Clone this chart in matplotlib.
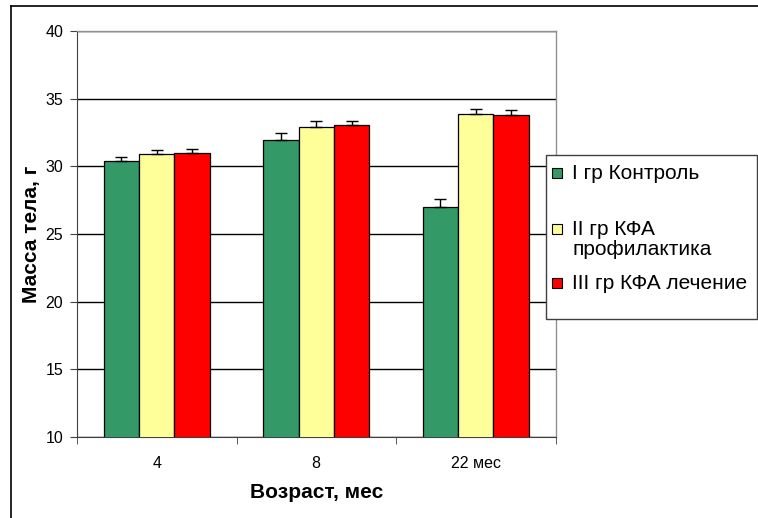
import matplotlib
matplotlib.use('Agg')
import matplotlib.pyplot as plt
import numpy as np
from matplotlib.patches import Rectangle
from matplotlib.lines import Line2D

plt.rcParams['font.family'] = ['Liberation Sans', 'DejaVu Sans']

categories = ['4', '8', '22 мес']
series_names = ['I гр Контроль', 'II гр КФА\nпрофилактика', 'III гр КФА лечение']
colors = ['#339966', '#FFFF99', '#FF0000']

control = [30.4, 31.95, 27.0]
prophylaxis = [30.9, 32.9, 33.85]
treatment = [31.0, 33.05, 33.8]
control_err = [0.3, 0.5, 0.6]
prophylaxis_err = [0.27, 0.42, 0.35]
treatment_err = [0.26, 0.33, 0.33]

values = [control, prophylaxis, treatment]
errors = [control_err, prophylaxis_err, treatment_err]

W, H = 758, 518
fig = plt.figure(figsize=(W / 100, H / 100), dpi=100)
ax = fig.add_axes([77 / W, 1 - 437 / H, (555.5 - 77) / W, (437 - 31) / H])

x = np.arange(len(categories))
bw = 0.222
for i in range(3):
    ax.bar(x + (i - 1) * bw, values[i], bw, bottom=0, color=colors[i],
           edgecolor='black', linewidth=0.9, zorder=3,
           yerr=[np.zeros(3), errors[i]], capsize=4,
           error_kw=dict(ecolor='black', elinewidth=1, capthick=1, zorder=4))

ax.set_ylim(10, 40)
ax.set_xlim(-0.5, 2.5)
ax.set_yticks(np.arange(10, 41, 5))
ax.yaxis.grid(True, color='black', linewidth=1, zorder=0)
ax.set_axisbelow(True)

ax.set_xticks(x)
ax.set_xticklabels(categories)
ax.set_xticks([-0.5, 0.5, 1.5, 2.5], minor=True)
ax.tick_params(axis='x', which='major', length=0, pad=14, labelsize=11.5)
ax.tick_params(axis='x', which='minor', length=5, color='#404040')
ax.tick_params(axis='y', length=5, pad=5, labelsize=11.5, color='#404040')

for s in ['top', 'right']:
    ax.spines[s].set_color('#909090')
    ax.spines[s].set_linewidth(1)
ax.spines['left'].set_color('#404040')
ax.spines['bottom'].set_color('#404040')

ax.set_xlabel('Возраст, мес', fontsize=15, fontweight='bold', labelpad=8)
ax.set_ylabel('Масса тела, г', fontsize=15, fontweight='bold', labelpad=3)

# outer chart frame (cut off at right and bottom)
fig.add_artist(Line2D([11 / W, 1], [1 - 5.5 / H, 1 - 5.5 / H], color='black', lw=1.2))
fig.add_artist(Line2D([11 / W, 11 / W], [0, 1 - 5.5 / H], color='black', lw=1.2))

# legend box
fig.add_artist(Rectangle((546 / W, 1 - 319 / H), (757 - 546) / W, (319 - 155) / H,
                         transform=fig.transFigure, facecolor='white',
                         edgecolor='#404040', lw=1, zorder=5))
legend_y = [173, 229, 283]
for i in range(3):
    yc = legend_y[i]
    fig.add_artist(Rectangle((552 / W, 1 - (yc + 5) / H), 10 / W, 10 / H,
                             transform=fig.transFigure, facecolor=colors[i],
                             edgecolor='black', lw=0.8, zorder=6))
    fig.text(572 / W, 1 - (yc - 9) / H, series_names[i], fontsize=15,
             va='top', ha='left', zorder=7, linespacing=1.05)

fig.savefig('out.png', dpi=100)
